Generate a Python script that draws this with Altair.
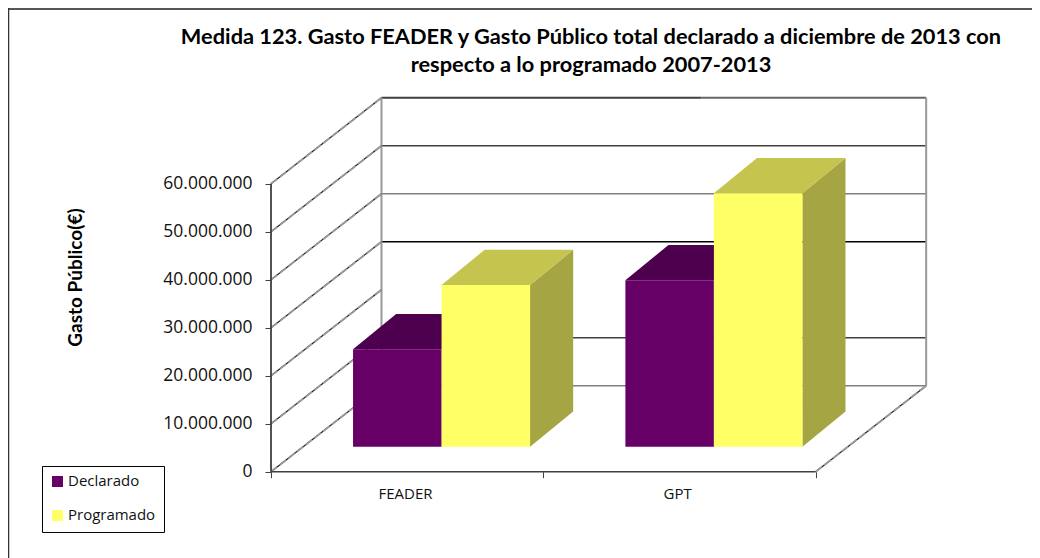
import altair as alt
import pandas as pd

# values
categories = ["FEADER", "GPT"]
series = ["Declarado", "Programado"]
declarado = [20300000, 34700000]
programado = [33700000, 52800000]
y_ticks = [0, 10000000, 20000000, 30000000, 40000000, 50000000, 60000000]
x_ticks = [0, 1, 2]
grid_dark = [10000000, 50000000]
grid_black = [30000000]
grid_gray = [0, 40000000]

# oblique projection of the 3D box (units of the x and y scales)
DX = 0.4057          # x shift for full depth
DY = 17900000        # y shift for full depth
X_MAX = 2.4087
Y_MAX = 78270000
GAP = 0.1836
W = 0.325
Z0 = 0.29
Z1 = 0.70

FONT = "Open Sans"
xs = alt.Scale(domain=[0, X_MAX], nice=False, zero=False)
ys = alt.Scale(domain=[0, Y_MAX], nice=False, zero=False)
X = alt.X("x:Q", scale=xs, title=None,
          axis=alt.Axis(values=x_ticks, labels=False, domain=False, tickColor="#404040",
                        tickSize=6, grid=False))
Y = alt.Y("y:Q", scale=ys, title="Gasto Público(€)",
          axis=alt.Axis(values=y_ticks, domain=False, grid=False, tickColor="#404040",
                        tickSize=6, labelExpr="replace(format(datum.value, ','), /,/g, '.')",
                        labelFont=FONT, labelFontSize=17.5, labelColor="#111111", labelPadding=13,
                        titleFont="Lato", titleFontSize=19, titleFontWeight="bold",
                        titleColor="#000000", titleX=-186, titleY=181))

front, tops, sides = [], [], []
for s, (name, vals) in enumerate(zip(series, [declarado, programado])):
    for c, v in enumerate(vals):
        x0 = c + GAP + s * W + Z0 * DX
        base = Z0 * DY
        top = base + v
        d = (Z1 - Z0 - 0.02) * DX
        h = (Z1 - Z0) * DY
        bid = f"{c}-{s}"
        front.append(dict(serie=name, x=x0, x2=x0 + W, y=base, y2=top))
        for px, up, lo in [(x0, top, top), (x0 + d, top + h, top),
                           (x0 + W, top + h, top), (x0 + W + d, top + h, top + h)]:
            tops.append(dict(serie=name, id=bid, x=px, y=up, y2=lo))
        for px, up, lo in [(x0 + W, top, base), (x0 + W + d, top + h, base + h)]:
            sides.append(dict(serie=name, id=bid, x=px, y=up, y2=lo))
front, tops, sides = map(pd.DataFrame, (front, tops, sides))


def grid(values, color, width):
    df = pd.DataFrame({"y": [v + DY for v in values], "x": DX, "x2": 2 + DX})
    return alt.Chart(df).mark_rule(color=color, strokeWidth=width).encode(
        x=X, x2="x2:Q", y=Y)


def diag(rows, color, width, dash=None):
    df = pd.DataFrame(rows)
    kw = dict(strokeDash=dash) if dash else {}
    return alt.Chart(df).mark_line(color=color, strokeWidth=width, **kw).encode(
        x=X, y=Y, detail="id:N", order="z:Q")


diag_rows = []
for v in y_ticks:
    diag_rows += [dict(id=f"w{v}", z=0, x=0, y=v), dict(id=f"w{v}", z=1, x=DX, y=v + DY)]
diag_rows += [dict(id="floor", z=0, x=2, y=0), dict(id="floor", z=1, x=2 + DX, y=DY)]

walls = pd.DataFrame({"x": [DX, 2 + DX], "y": [DY, DY], "y2": [60000000 + DY] * 2})
wall_lines = alt.Chart(walls).mark_rule(color="#999999", strokeWidth=2).encode(
    x=X, y=Y, y2="y2:Q")

top_a = pd.DataFrame({"y": [60000000 + DY], "x": [DX], "x2": [1.5 + DX * 0.2]})
top_b = pd.DataFrame({"y": [60000000 + DY], "x": [1.5 + DX * 0.2], "x2": [2 + DX]})
top1 = alt.Chart(top_a).mark_rule(color="#404040", strokeWidth=2).encode(x=X, x2="x2:Q", y=Y)
top2 = alt.Chart(top_b).mark_rule(color="#666666", strokeWidth=2).encode(x=X, x2="x2:Q", y=Y)

y_axis_df = pd.DataFrame({"x": [0], "y": [0], "y2": [60000000]})
y_axis = alt.Chart(y_axis_df).mark_rule(color="#404040", strokeWidth=1.8).encode(x=X, y=Y, y2="y2:Q")
x_axis_df = pd.DataFrame({"x": [0], "x2": [2], "y": [0]})
x_axis = alt.Chart(x_axis_df).mark_rule(color="#404040", strokeWidth=1.6).encode(x=X, x2="x2:Q", y=Y)

cat_df = pd.DataFrame({"cat": categories, "x": [0.494, 1.493], "y": [0, 0]})
cat_text = alt.Chart(cat_df).mark_text(font=FONT, fontSize=15, color="#111111", dy=22).encode(
    x=X, y=Y, text="cat:N")


def faces(name, col_top, col_side):
    t = tops[tops.serie == name]
    sd = sides[sides.serie == name]
    return [
        alt.Chart(sd).mark_area(color=col_side).encode(x=X, y=Y, y2="y2:Q", detail="id:N"),
        alt.Chart(t).mark_area(color=col_top).encode(x=X, y=Y, y2="y2:Q", detail="id:N"),
        alt.Chart(front[front.serie == name]).mark_rect().encode(
            x=X, x2="x2:Q", y=Y, y2="y2:Q",
            color=alt.Color("serie:N",
                            scale=alt.Scale(domain=series, range=["#660066", "#FFFF66"]),
                            legend=alt.Legend(title=None, orient="none", legendX=-229, legendY=370,
                                              symbolType="square", symbolSize=121,
                                              symbolStrokeWidth=0,
                                              labelFont=FONT, labelFontSize=15,
                                              labelColor="#111111", rowPadding=18,
                                              strokeColor="#000000", padding=8, labelOffset=3))),
    ]


# outer frame of the picture
frame_top = alt.Chart(pd.DataFrame({"a": [0]})).mark_rule(color="#555555", strokeWidth=2).encode(
    x=alt.value(-263), x2=alt.value(761), y=alt.value(-87))
frame_left = alt.Chart(pd.DataFrame({"a": [0]})).mark_rule(color="#333333", strokeWidth=1.5).encode(
    y=alt.value(-88), y2=alt.value(462), x=alt.value(-262.5))

chart = alt.layer(
    frame_top, frame_left,
    grid(grid_gray, "#808080", 1.5), grid(grid_dark, "#404040", 1.6),
    grid(grid_black, "#000000", 1.6), top1, top2, wall_lines,
    diag(diag_rows, "#222222", 1.2), diag(diag_rows, "#999999", 2, [8, 3]),
    y_axis, x_axis, cat_text,
    *faces("Declarado", "#4D004D", "#4D004D"),
    *faces("Programado", "#C4C44E", "#A5A544"),
).properties(
    width=656, height=375.7,
    padding={"left": 263, "top": 88, "right": 105, "bottom": 86},
    autosize=alt.AutoSizeParams(type="none"),
    title=alt.TitleParams(
        ["Medida 123. Gasto FEADER y Gasto Público total  declarado  a diciembre de  2013 con",
         "respecto a lo programado 2007-2013"],
        font="Lato", fontSize=21.8, fontWeight="bold", color="#000000", anchor="middle",
        frame="group", dx=-8, lineHeight=28, offset=-70),
).configure_view(stroke=None)

chart.save("out.html", embed_options={"renderer": "svg", "actions": False})
